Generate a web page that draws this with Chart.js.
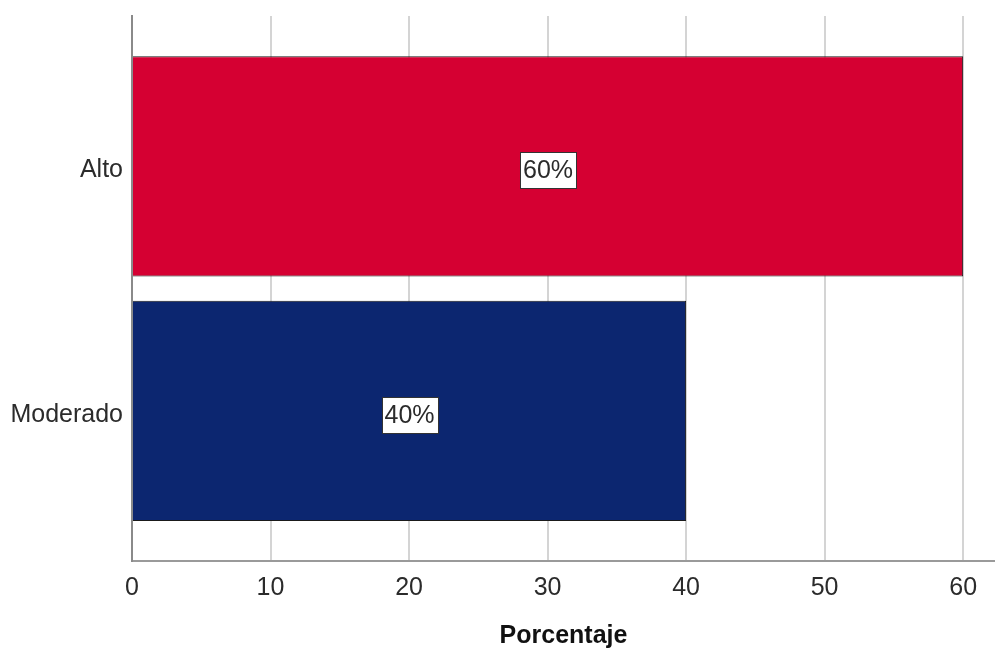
<!DOCTYPE html>
<html>
<head>
<meta charset="utf-8">
<script src="https://cdn.jsdelivr.net/npm/chart.js@4"></script>
<style>
  html, body { margin: 0; padding: 0; background: #fff; }
  #wrap { width: 995px; height: 652px; }
</style>
</head>
<body>
<div id="wrap"><canvas id="chart"></canvas></div>
<script>
'use strict';

// chart data
var categories = ['Alto', 'Moderado'];
var percentages = [60, 40];
var barColors = ['rgb(213, 0, 50)', 'rgb(12, 38, 112)'];
var xTicks = [0, 10, 20, 30, 40, 50, 60];

var FONT = '"Liberation Sans", Arial, sans-serif';
var TEXT = '#2b2b2b';

// value label boxes in the middle of each bar
var boxLabels = {
  id: 'boxLabels',
  afterDatasetsDraw: function (chart) {
    var ctx = chart.ctx;
    var meta = chart.getDatasetMeta(0);
    ctx.save();
    ctx.font = '25px ' + FONT;
    ctx.textAlign = 'center';
    ctx.textBaseline = 'middle';
    meta.data.forEach(function (bar, i) {
      var text = percentages[i] + '%';
      var cx = (bar.x + bar.base) / 2;
      var cy = bar.y + 4;
      var w = Math.round(ctx.measureText(text).width + 6);
      var h = 36;
      var left = Math.round(cx - w / 2), top = Math.round(cy - h / 2);
      ctx.fillStyle = '#fff';
      ctx.fillRect(left, top, w, h);
      ctx.strokeStyle = '#333';
      ctx.lineWidth = 1;
      ctx.strokeRect(left + 0.5, top + 0.5, w, h);
      ctx.fillStyle = TEXT;
      ctx.fillText(text, cx, cy + 1);
    });
    ctx.restore();
  }
};

var points = categories.map(function (c, i) {
  return { x: percentages[i], y: i };
});

new Chart(document.getElementById('chart'), {
  type: 'bar',
  data: {
    datasets: [{
      data: points,
      backgroundColor: barColors,
      borderColor: '#1a1a1a',
      borderWidth: 1,
      barPercentage: 0.9,
      categoryPercentage: 1
    }]
  },
  plugins: [boxLabels],
  options: {
    indexAxis: 'y',
    responsive: true,
    maintainAspectRatio: false,
    animation: false,
    layout: { padding: { top: 16, right: 0, left: 0, bottom: 0 } },
    plugins: {
      legend: { display: false },
      tooltip: { enabled: false }
    },
    scales: {
      x: {
        type: 'linear',
        min: 0,
        max: 62.3,
        afterBuildTicks: function (scale) {
          scale.ticks = xTicks.map(function (v) { return { value: v }; });
        },
        afterFit: function (scale) {
          scale.height = 91;
          scale.paddingLeft = 0;
          scale.paddingRight = 0;
        },
        grid: { color: '#d4d4d4', lineWidth: 2, drawTicks: false },
        border: { display: true, color: '#9a9a9a', width: 2 },
        ticks: {
          color: TEXT,
          font: { family: FONT, size: 25 },
          padding: 12,
          maxRotation: 0
        },
        title: {
          display: true,
          text: 'Porcentaje',
          color: '#111',
          font: { family: FONT, size: 25, weight: 'bold' },
          padding: { top: 0, bottom: 1 }
        }
      },
      y: {
        type: 'linear',
        reverse: true,
        offset: false,
        bounds: 'data',
        grace: 0,
        min: -0.614,
        max: 1.613,
        afterBuildTicks: function (scale) {
          scale.ticks = categories.map(function (c, i) { return { value: i }; });
        },
        afterFit: function (scale) {
          scale.width = 132;
          scale.paddingTop = 0;
          scale.paddingBottom = 0;
        },
        grid: { display: false, drawTicks: false, offset: false },
        border: { display: true, color: '#8a8a8a', width: 2 },
        ticks: {
          color: TEXT,
          font: { family: FONT, size: 25 },
          padding: 9,
          labelOffset: 4,
          callback: function (v) { return categories[v]; }
        }
      }
    }
  }
});
</script>
</body>
</html>
